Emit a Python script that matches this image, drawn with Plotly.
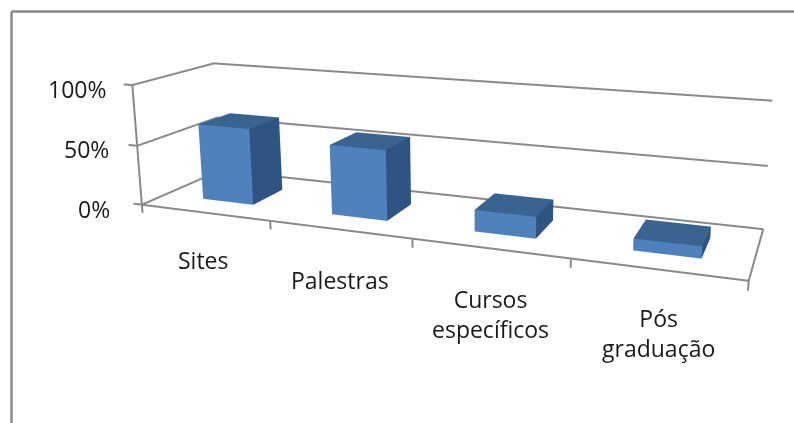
import plotly.graph_objects as go

W, H = 794, 423

# Data
categories = ["Sites", "Palestras", "Cursos<br>específicos", "Pós<br>graduação"]
values = [64, 57, 17, 9]
z_ticks = [0, 50, 100]
z_tick_labels = ["0%", "50%", "100%"]

# Figure is larger than the window so that the scene's fixed 45-degree lens
# gets the reference's long focal length; it is shifted up by OFF on the page.
FW, FH, OFF = 940, 842, 281
X_RANGE = [-0.2, 4.05]
Y_RANGE = [-0.02, 1.02]
Z_RANGE = [-10.0, 103.0]
EYE = dict(x=0.57854, y=-1.38400, z=0.39517)
CENTER = dict(x=0.04256, y=0.06196, z=0.01889)
UP = dict(x=0.00329, y=0.00838, z=1.0)
ASPECT = dict(x=1.0, y=0.22837, z=0.21944)

FRONT, SIDE, TOP = "#4f81bd", "#2f5482", "#3a638f"
GRID = "#8a8a8a"
FLAT = dict(ambient=1, diffuse=0, specular=0, roughness=1, fresnel=0)


def px_x(x):
    return x / FW


def px_y(y):
    return 1 - (y + OFF) / FH


def line(fig, xs, ys, zs):
    fig.add_trace(go.Scatter3d(x=xs, y=ys, z=zs, mode="lines",
                               line=dict(color=GRID, width=4),
                               hoverinfo="skip", showlegend=False))


fig = go.Figure()

for i, v in enumerate(values):
    x0, x1, y0, y1 = i + 0.31, i + 0.71, 0.28, 0.69
    faces = [
        (FRONT, [x0, x1, x1, x0], [y0, y0, y0, y0], [0, 0, v, v]),
        (SIDE, [x1, x1, x1, x1], [y0, y1, y1, y0], [0, 0, v, v]),
        (TOP, [x0, x1, x1, x0], [y0, y0, y1, y1], [v, v, v, v]),
    ]
    for color, xs, ys, zs in faces:
        fig.add_trace(go.Mesh3d(x=xs, y=ys, z=zs, i=[0, 0], j=[1, 2], k=[2, 3],
                                color=color, flatshading=True, lighting=FLAT,
                                hoverinfo="skip", showlegend=False))

n = len(categories)
for z in z_ticks:
    line(fig, [n, 0, 0], [1, 1, 0], [z, z, z])
    line(fig, [-0.07, 0], [0, 0], [z, z])
line(fig, [0, n, n], [0, 0, 1], [0, 0, 0])
line(fig, [0, 0], [0, 0], [0, z_ticks[-1]])
for i in range(n + 1):
    line(fig, [i, i], [0, 0], [0, -7])

fig.update_layout(
    width=FW, height=FH, margin=dict(l=0, r=0, t=0, b=0),
    paper_bgcolor="white", showlegend=False,
    scene=dict(
        domain=dict(x=[0, 1], y=[0, 1]),
        xaxis=dict(range=X_RANGE, visible=False),
        yaxis=dict(range=Y_RANGE, visible=False),
        zaxis=dict(range=Z_RANGE, visible=False),
        aspectmode="manual", aspectratio=ASPECT,
        camera=dict(eye=EYE, center=CENTER, up=UP,
                    projection=dict(type="perspective")),
    ),
)

label_pos = [(203, 260), (340, 280), (491, 314), (658, 333)]
tick_pos = [(94, 209), (86, 149), (77, 89)]
texts = list(zip(categories, label_pos)) + list(zip(z_tick_labels, tick_pos))
for text, (x, y) in texts:
    fig.add_annotation(text=text, x=px_x(x), y=px_y(y), xref="paper", yref="paper",
                       xanchor="center", yanchor="middle", showarrow=False,
                       font=dict(family="Open Sans", size=23, color="#1a1a1a"))

frame = dict(color=GRID, width=2.5)
fig.add_shape(type="line", xref="paper", yref="paper", x0=px_x(11.5), x1=px_x(W),
              y0=px_y(11.5), y1=px_y(11.5), line=frame)
fig.add_shape(type="line", xref="paper", yref="paper", x0=px_x(11.5), x1=px_x(11.5),
              y0=px_y(11.5), y1=px_y(H), line=frame)

post = ("document.body.style.margin='0';document.body.style.overflow='hidden';"
        f"document.querySelector('.plotly-graph-div').style.marginTop='-{OFF}px';")
fig.write_html("out.html", post_script=post)
